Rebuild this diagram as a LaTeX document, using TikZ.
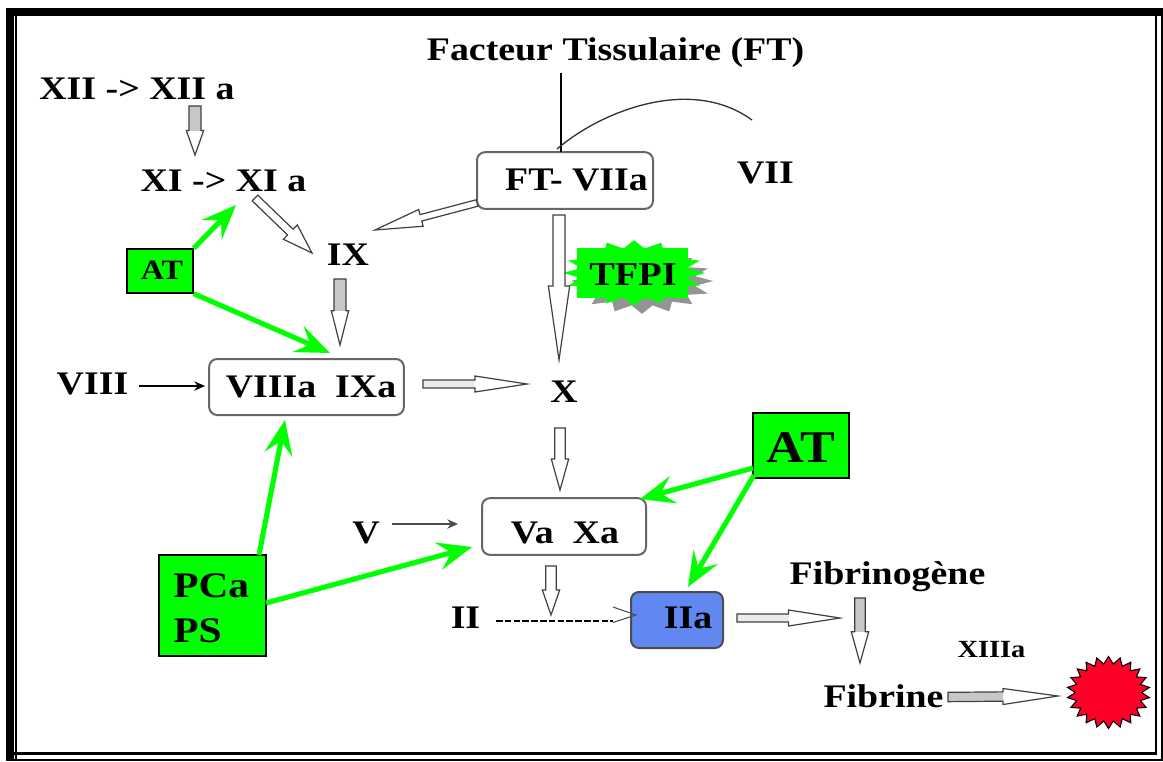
\documentclass[tikz,border=0pt]{standalone}
\usepackage{fontspec}
\setmainfont{Liberation Serif}[FakeStretch=1.15]
\usetikzlibrary{calc,arrows.meta,shapes.geometric}
\definecolor{grn}{RGB}{0,255,0}
\definecolor{blu}{RGB}{96,136,240}
\definecolor{redb}{RGB}{255,0,40}
\newcommand{\blockarrow}[6][white]{%
  \coordinate (h) at ($(#2)!#6!(#3)$);
  \fill[#1] ($(#2)!#4pt!90:(#3)$) -- ($(h)!#4pt!90:(#3)$) -- ($(h)!#4pt!-90:(#3)$) -- ($(#2)!#4pt!-90:(#3)$) -- cycle;
  \draw[blk] ($(#2)!#4pt!90:(#3)$) -- ($(h)!#4pt!90:(#3)$) -- ($(h)!#5pt!90:(#3)$) -- (#3) -- ($(h)!#5pt!-90:(#3)$) -- ($(h)!#4pt!-90:(#3)$) -- ($(#2)!#4pt!-90:(#3)$) -- cycle;
}
\tikzset{
  lbl/.style={anchor=base,inner sep=0pt,font=\fontsize{24.7pt}{28pt}\selectfont\bfseries},
  blk/.style={draw=black!75,line width=.9pt,line join=miter},
  rbox/.style={draw=black!60,line width=1.5pt,rounded corners=6pt,inner sep=0pt,fill=white},
  gbox/.style={draw=black,line width=1.5pt,fill=grn,inner sep=0pt},
  garrow/.style={draw=grn,line width=3.8pt,-{Stealth[length=26pt,width=21pt,inset=10pt]}},
  thin/.style={draw=black,line width=1pt},
  burst/.style={star,star points=16,star point ratio=1.32,minimum size=60pt,inner sep=0pt,xscale=1.78,yscale=.82,transform shape},
}
\begin{document}
\begin{tikzpicture}[x=.75pt,y=-.75pt]
\useasboundingbox (0,0) rectangle (1163,761);
\fill[white] (0,0) rectangle (1163,761);
% frame
\draw[line width=6.2pt] (6,12.2) -- (1163,12.2);
\draw[line width=5.8pt] (9.8,8) -- (9.8,761);
\draw[line width=1.4pt] (15.7,16) -- (15.7,761);
\draw[line width=1.8pt] (13,753.3) -- (1156,753.3);
\draw[line width=1.8pt] (1156,16) -- (1156,754.5);
\draw[line width=1.8pt] (1162,16) -- (1162,761);
\draw[line width=2pt] (13,760) -- (1163,760);
% boxes
\node[rbox,minimum width=132pt,minimum height=42.5pt] (ftbox) at (565,180.5) {};
\node[rbox,minimum width=146pt,minimum height=42pt] (viiibox) at (306.5,387) {};
\node[rbox,minimum width=123pt,minimum height=42.5pt] (vabox) at (564,526.5) {};
\node[rbox,draw=black!70,fill=blu,minimum width=69pt,minimum height=42pt] (iiabox) at (677,620) {};
\node[gbox,minimum width=49pt,minimum height=32.5pt] (ats) at (160,271) {};
\node[gbox,minimum width=71.5pt,minimum height=48.5pt] (atb) at (801,445.5) {};
\node[gbox,minimum width=80pt,minimum height=75.5pt] (pc) at (212.5,605.5) {};
% TFPI burst
\node[burst,fill=black!42] (tfshadow) at (642,281) {};
\node[burst,fill=grn] (tfburst) at (634,273) {};
\node[fill=grn,minimum width=83pt,minimum height=37pt,inner sep=0pt] (tfrect) at (632.5,273) {};
% red burst
\node[star,star points=22,star point ratio=1.25,draw=black,line width=.8pt,fill=redb,minimum size=54pt,inner sep=0pt,xscale=1.15,transform shape] (red) at (1108.5,692.5) {};
% labels
\node[lbl] (xii) at (137,99) {XII -> XII a};
\node[lbl] (xi) at (223.5,191) {XI -> XI a};
\node[lbl] (ft) at (615.5,60) {Facteur Tissulaire (FT)};
\node[lbl] (ix) at (348,265) {IX};
\node[lbl,font=\fontsize{21pt}{24pt}\selectfont\bfseries] (atl) at (162,279) {AT};
\node[lbl] (ftv) at (576.5,190) {FT- VIIa};
\node[lbl] (vii) at (765.5,183) {VII};
\node[lbl,font=\fontsize{25pt}{28pt}\selectfont\bfseries] (tfpi) at (633,285) {TFPI};
\node[lbl] (viii) at (92.5,394) {VIII};
\node[lbl] (viiia) at (311,397) {VIIIa~~IXa};
\node[lbl] (x) at (564,402) {X};
\node[lbl] (vaxa) at (565,543) {Va~~Xa};
\node[lbl] (v) at (366,543) {V};
\node[lbl] (ii) at (465.5,628) {II};
\node[lbl] (iia) at (688,628) {IIa};
\node[lbl,font=\fontsize{34pt}{37pt}\selectfont\bfseries] (atbl) at (800.5,462) {AT};
\node[lbl,font=\fontsize{27pt}{30pt}\selectfont\bfseries,anchor=base west] (pca) at (173,597) {PCa};
\node[lbl,font=\fontsize{27pt}{30pt}\selectfont\bfseries,anchor=base west] (ps) at (173,642) {PS};
\node[lbl] (fibg) at (887.5,584) {Fibrinogène};
\node[lbl] (fib) at (883.5,707) {Fibrine};
\node[lbl,font=\fontsize{18.5pt}{22pt}\selectfont\bfseries] (xiiia) at (991.5,657) {XIIIa};
% endpoints
\coordinate (a1) at (195,106); \coordinate (b1) at (195,155);
\coordinate (a2) at (255,198); \coordinate (b2) at (312,253);
\coordinate (a3) at (477,203); \coordinate (b3) at (375,230);
\coordinate (a4) at (559,215); \coordinate (b4) at (559,360);
\coordinate (a5) at (340,279); \coordinate (b5) at (340,345);
\coordinate (a6) at (423,384); \coordinate (b6) at (527,384);
\coordinate (a7) at (560,428); \coordinate (b7) at (560,490);
\coordinate (a8) at (551,566); \coordinate (b8) at (551,615);
\coordinate (a9) at (737,618); \coordinate (b9) at (840,618);
\coordinate (a10) at (860,598); \coordinate (b10) at (860,663);
\coordinate (a11) at (948,697); \coordinate (b11) at (1058,696);
% block arrows
\blockarrow[black!22]{a1}{b1}{4.5}{6.5}{.5}
\blockarrow{a2}{b2}{3}{7.5}{.62}
\blockarrow{a3}{b3}{2.5}{6.5}{.55}
\blockarrow{a4}{b4}{4.5}{8}{.49}
\blockarrow[black!22]{a5}{b5}{4.5}{6.5}{.48}
\blockarrow[black!8]{a6}{b6}{3}{6}{.5}
\blockarrow{a7}{b7}{4}{6.5}{.5}
\blockarrow{a8}{b8}{4}{6.5}{.49}
\blockarrow[black!8]{a9}{b9}{3}{6}{.5}
\blockarrow[black!22]{a10}{b10}{4}{6.5}{.52}
\blockarrow[black!22]{a11}{b11}{3.5}{6}{.5}
% thin connectors
\coordinate (ftv-top) at (561,152);
\coordinate (ft-bot) at (561,73);
\coordinate (vii-end) at (752,120);
\coordinate (curve-start) at (557,149);
\draw[thin] (ft-bot) -- (ftv-top);
\draw[draw=black!80,line width=1pt] (curve-start) .. controls (600,112) and (690,75) .. (vii-end);
\coordinate (viii-out) at (139,386); \coordinate (viii-in) at (205,386);
\draw[thin,-{Stealth[length=8pt,width=7pt]}] (viii-out) -- (viii-in);
\coordinate (v-out) at (392,524); \coordinate (v-in) at (458,524);
\draw[draw=black!70,line width=1pt,-{Stealth[length=8pt,width=7pt]}] (v-out) -- (v-in);
\coordinate (ii-out) at (496,621); \coordinate (ii-dash) at (613,621); \coordinate (iia-in) at (636,615);
\draw[thin,dash pattern=on 5pt off 1.6pt] (ii-out) -- (ii-dash);
\draw[draw=black!70,line width=.8pt] (613,607) -- (iia-in) -- (613,622.5);
% green arrows
\coordinate (g1) at (236,205);
\coordinate (g2) at (330,353);
\coordinate (g3) at (285,420);
\coordinate (g4) at (472,547);
\coordinate (g5) at (640,499);
\coordinate (g6) at (688,587);
\draw[garrow] (ats.north east) -- (g1);
\draw[garrow] (ats.south east) -- (g2);
\draw[garrow] (259,555) -- (g3);
\draw[garrow] (266,603) -- (g4);
\draw[garrow] (753,468) -- (g5);
\draw[garrow] (754,475) -- (g6);
\end{tikzpicture}
\end{document}
